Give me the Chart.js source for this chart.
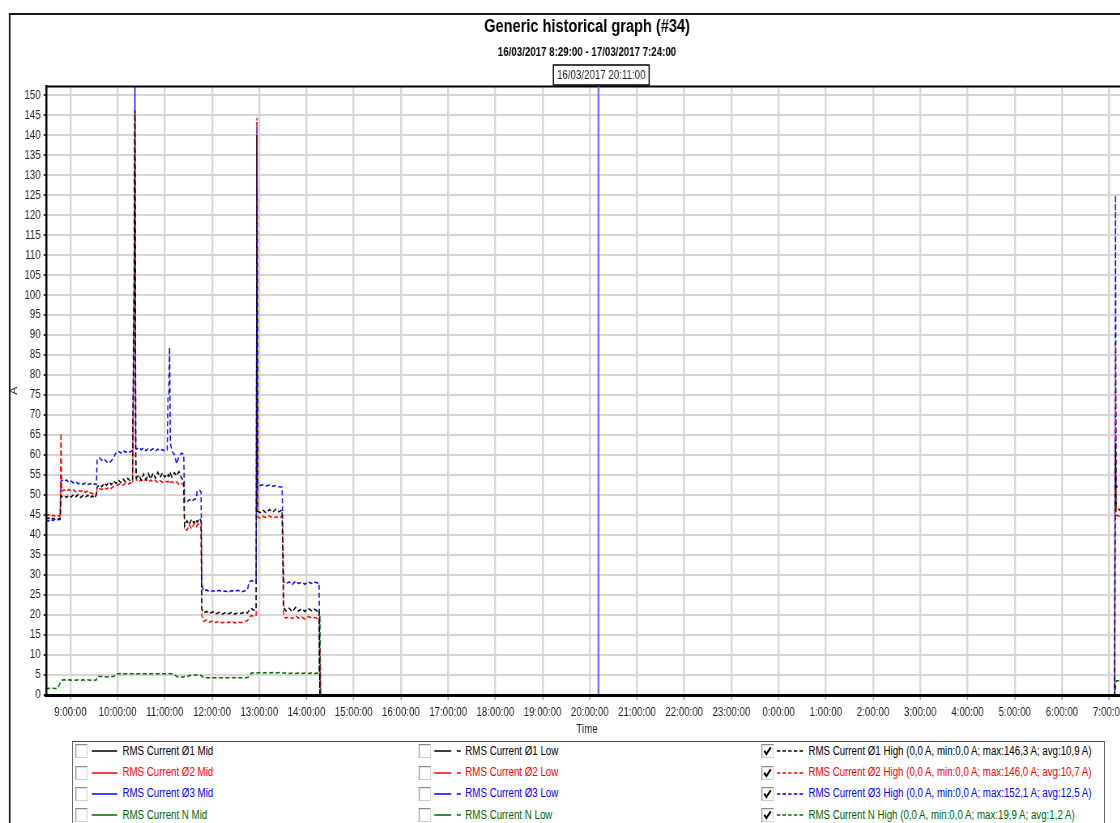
<!DOCTYPE html>
<html>
<head>
<meta charset="utf-8">
<script src="https://cdn.jsdelivr.net/npm/chart.js@4.4.1/dist/chart.umd.min.js"></script>
<style>
html,body{margin:0;padding:0;overflow:hidden;background:#fff;width:1120px;height:823px;}
#stage{position:absolute;left:0;top:0;width:1383px;height:823px;transform:scaleX(0.81);transform-origin:0 0;overflow:hidden;font-family:'Liberation Sans',Arial,sans-serif;}
#frame{position:absolute;left:11px;top:13px;width:1600px;height:900px;border-left:2.8px solid #1a1a1a;border-top:2px solid #1a1a1a;}
#chart{position:absolute;left:0;top:0;}
#legendBox{position:absolute;left:89px;top:741px;width:1273px;height:120px;border:1.3px solid #444;background:#fff;}
.item{position:absolute;white-space:nowrap;font-size:12px;line-height:14px;}
.cb{position:absolute;width:13px;height:12px;border:1px solid;border-color:#8a8a8a #cfcfcf #cfcfcf #8a8a8a;background:#fff;box-shadow:inset 1px 1px 0 #e4e4e4;line-height:0;}
.cb svg{position:absolute;left:0;top:0;display:block;}
.smp{position:absolute;line-height:0;height:4px;}
.smp svg{display:block;}
</style>
</head>
<body>
<div id="stage">
  <div id="frame"></div>
  <canvas id="chart" width="1400" height="740" style="width:1400px;height:740px;"></canvas>
  <div id="legendBox"></div>
</div>
<script>
// ---------------- data ----------------
const startTime = "08:29";
const endTime = "07:24";
const cursorTime = "20:11";
const cursorLabel = "16/03/2017 20:11:00";
const chartTitle = "Generic historical graph (#34)";
const chartSubtitle = "16/03/2017 8:29:00 - 17/03/2017 7:24:00";

const times = [
 "08:29","08:32","08:35","08:38","08:41","08:44","08:46","08:47","08:48","08:49",
 "08:52","08:55","08:58","09:01","09:04","09:07","09:10","09:13","09:16","09:19",
 "09:22","09:25","09:28","09:31","09:33","09:34","09:37","09:40","09:43","09:46",
 "09:49","09:52","09:55","09:58","10:01","10:04","10:07","10:10","10:13","10:16",
 "10:19","10:21","10:22","10:23","10:24","10:27","10:30","10:33","10:36","10:39",
 "10:42","10:45","10:48","10:51","10:54","10:57","11:00","11:03","11:04","11:05",
 "11:06","11:07","11:09","11:12","11:15","11:18","11:21","11:24","11:25","11:28",
 "11:31","11:34","11:37","11:40","11:41","11:44","11:46","11:47","11:49","11:53",
 "11:57","12:01","12:05","12:09","12:13","12:17","12:21","12:25","12:29","12:33",
 "12:37","12:41","12:45","12:47","12:50","12:53","12:56","12:57","12:58","13:01",
 "13:05","13:09","13:13","13:17","13:21","13:25","13:29","13:31","13:34","13:38",
 "13:42","13:46","13:50","13:54","13:58","14:02","14:06","14:10","14:14","14:16",
 "14:17","14:18","07:07","07:08","07:09","07:14","07:19","07:24"
];
const phase1High = [
 44.0,44.3,43.8,44.2,43.9,44.1,43.9,44.1,49.8,49.6,
 49.9,49.4,50.0,49.5,50.1,49.6,50.2,49.4,49.9,49.5,
 50.0,49.3,49.8,49.2,50.2,52.0,52.6,52.1,53.0,52.4,
 53.3,52.6,53.5,52.9,53.8,53.1,54.0,53.3,54.2,53.5,
 54.0,100.0,146.3,59.6,54.3,55.1,53.7,55.3,53.9,55.4,
 54.0,55.5,54.2,55.7,54.4,55.6,54.5,55.3,54.8,55.1,
 54.6,55.4,54.5,55.6,54.8,55.9,54.3,53.6,42.2,43.6,
 42.6,44.0,43.0,43.9,43.2,44.2,43.5,21.6,20.5,20.9,
 20.4,20.8,20.3,20.7,20.2,20.6,20.3,20.7,20.2,20.6,
 20.4,20.7,20.5,21.2,21.6,21.2,21.4,140.0,46.0,45.6,
 46.2,45.5,46.4,45.7,46.5,45.8,46.3,21.8,21.0,21.7,
 20.8,21.9,21.0,21.6,20.9,21.7,21.1,21.5,20.9,21.2,
 0,0,0,63.0,47.0,46.2,46.8,46.4
];
const phase2High = [
 44.8,45.1,44.6,45.0,44.6,44.9,44.7,44.9,65.5,51.0,
 51.3,50.9,51.4,51.0,51.3,50.8,51.2,50.9,51.3,50.7,
 51.1,50.6,50.4,50.0,50.3,51.3,51.6,51.4,51.9,51.5,
 52.0,51.7,52.2,52.4,52.6,52.9,52.5,53.0,52.7,53.1,
 52.8,100.0,146.0,54.4,53.8,53.3,53.9,53.4,54.0,53.2,
 53.8,53.3,53.7,53.1,53.6,53.2,53.5,53.3,53.5,53.3,
 53.6,53.2,53.4,52.9,53.3,52.7,53.0,52.4,41.8,41.2,
 42.6,41.5,42.9,42.1,42.5,42.9,42.4,19.9,18.4,18.8,
 18.2,18.6,18.1,18.5,18.0,18.4,18.1,18.5,18.0,18.3,
 18.1,18.4,18.6,19.4,19.9,19.6,20.0,144.4,44.6,44.2,
 44.7,44.3,44.8,44.2,44.6,44.3,44.7,19.7,19.2,19.6,
 19.1,19.8,19.2,19.5,19.0,19.6,19.3,19.4,19.1,19.3,
 10.0,0,0,87.5,45.0,44.6,45.1,44.8
];
const phase3High = [
 43.8,43.5,44.0,43.6,44.1,43.8,44.0,43.9,53.5,53.7,
 53.4,53.8,53.2,53.5,53.0,53.3,52.8,53.1,52.7,53.0,
 52.6,52.9,52.5,52.8,52.6,58.9,59.3,58.7,59.1,58.3,
 58.0,58.6,59.4,60.6,61.0,60.5,61.2,60.7,61.1,60.8,
 61.2,106.0,152.1,61.8,61.5,61.9,61.3,61.8,61.1,61.7,
 61.2,61.6,61.0,61.5,61.1,61.4,61.0,61.3,74.5,75.0,
 87.0,63.0,61.0,60.2,57.8,59.6,60.5,60.2,48.6,48.2,
 48.9,48.4,48.9,49.1,51.0,51.2,50.8,28.0,26.0,26.3,
 25.8,26.1,25.9,26.2,25.8,26.0,25.7,26.1,25.9,26.2,
 25.8,26.0,26.3,28.3,28.6,28.4,28.6,143.3,52.6,52.4,
 52.6,52.3,52.5,52.2,52.4,52.1,52.0,28.4,27.8,28.3,
 27.6,28.5,27.9,28.2,27.7,28.4,27.9,28.3,28.0,28.1,
 0,0,0,125.0,52.0,52.4,52.1,52.3
];
const neutralHigh = [
 1.6,1.7,1.6,1.7,1.6,1.7,2.6,3.0,3.4,3.7,
 3.8,3.7,3.8,3.7,3.8,3.7,3.8,3.7,3.8,3.7,
 3.8,3.7,3.8,3.7,3.8,4.6,4.6,4.6,4.6,4.5,
 4.6,4.6,4.6,5.3,5.3,5.3,5.3,5.3,5.3,5.3,
 5.3,5.3,5.3,5.3,5.3,5.3,5.3,5.3,5.3,5.3,
 5.3,5.3,5.3,5.3,5.3,5.3,5.3,5.3,5.3,5.3,
 5.3,5.3,5.3,5.2,4.6,4.5,4.5,4.5,4.6,4.6,
 4.8,5.0,5.0,5.0,5.0,5.0,4.9,4.7,4.4,4.3,
 4.3,4.3,4.3,4.3,4.3,4.3,4.3,4.3,4.3,4.3,
 4.3,4.3,4.4,4.6,5.5,5.5,5.5,5.5,5.5,5.6,
 5.5,5.6,5.5,5.6,5.5,5.6,5.5,5.5,5.5,5.4,
 5.5,5.4,5.5,5.4,5.5,5.4,5.5,5.4,5.5,5.5,
 19.9,0,0,1.5,3.5,3.7,3.6,3.7
];

const hourLabels = ["9:00:00","10:00:00","11:00:00","12:00:00","13:00:00","14:00:00","15:00:00",
 "16:00:00","17:00:00","18:00:00","19:00:00","20:00:00","21:00:00","22:00:00","23:00:00",
 "0:00:00","1:00:00","2:00:00","3:00:00","4:00:00","5:00:00","6:00:00","7:00:00"];
const yTickValues = [0,5,10,15,20,25,30,35,40,45,50,55,60,65,70,75,80,85,90,95,100,
 105,110,115,120,125,130,135,140,145,150];

const legendMid = ["RMS Current Ø1 Mid","RMS Current Ø2 Mid","RMS Current Ø3 Mid","RMS Current N Mid"];
const legendLow = ["RMS Current Ø1 Low","RMS Current Ø2 Low","RMS Current Ø3 Low","RMS Current N Low"];
const legendHigh = [
 "RMS Current Ø1 High (0,0 A, min:0,0 A; max:146,3 A; avg:10,9 A)",
 "RMS Current Ø2 High (0,0 A, min:0,0 A; max:146,0 A; avg:10,7 A)",
 "RMS Current Ø3 High (0,0 A, min:0,0 A; max:152,1 A; avg:12,5 A)",
 "RMS Current N High (0,0 A, min:0,0 A; max:19,9 A; avg:1,2 A)"
];
const seriesColors = ["#000000","#ff0000","#0000ff","#006400"];

// ---------------- helpers ----------------
const FONT = "'Liberation Sans', Arial, sans-serif";
function rawMin(s){ const p = s.split(':').map(Number); return p[0]*60 + p[1]; }
const START = rawMin(startTime);
function toMin(s){ let v = rawMin(s); if (v < START) v += 1440; return v; }
function pts(vals){ return vals.map((v,i)=>({x: toMin(times[i]), y: v})); }
const firstHour = Math.ceil(START/60)*60;

const overlay = {
  id: 'overlay',
  afterDatasetsDraw(chart){
    const {ctx, chartArea: a, scales: {x}} = chart;
    const px = x.getPixelForValue(toMin(cursorTime));
    ctx.save();
    ctx.strokeStyle = '#000'; ctx.lineWidth = 2;
    ctx.beginPath(); ctx.moveTo(a.left, a.top); ctx.lineTo(a.right + 20, a.top); ctx.stroke();
    ctx.strokeStyle = '#7373ff'; ctx.lineWidth = 2.4;
    ctx.beginPath(); ctx.moveTo(px, a.top); ctx.lineTo(px, a.bottom); ctx.stroke();
    ctx.font = '12px ' + FONT;
    const w = ctx.measureText(cursorLabel).width + 9;
    const cx = px + 3.5, top = a.top - 21.5, h = 20;
    ctx.fillStyle = '#fff'; ctx.fillRect(cx - w/2, top, w, h);
    ctx.strokeStyle = '#000'; ctx.lineWidth = 1.5; ctx.strokeRect(cx - w/2, top, w, h);
    ctx.fillStyle = '#2a2030'; ctx.textAlign = 'center'; ctx.textBaseline = 'middle';
    ctx.fillText(cursorLabel, cx, top + h/2 + 0.5);
    ctx.restore();
  }
};

const names = legendHigh.map(s => s.split(' (')[0]);
const datasets = [phase1High, phase2High, phase3High, neutralHigh].map((vals, i) => ({
  label: names[i], data: pts(vals), borderColor: seriesColors[i], backgroundColor: seriesColors[i],
  borderWidth: 1.5, borderDash: [5, 3], pointRadius: 0, tension: 0, fill: false
}));

new Chart(document.getElementById('chart'), {
  type: 'line',
  data: { datasets },
  options: {
    responsive: false, animation: false, events: [],
    layout: { padding: { left: 0, right: 7.4, top: 0, bottom: 0 } },
    plugins: {
      legend: { display: false }, tooltip: { enabled: false },
      title: { display: true, text: chartTitle, fullSize: false, color: '#000',
               font: { family: FONT, size: 18, weight: 'bold' }, padding: { top: 16.7, bottom: 0 } },
      subtitle: { display: true, text: chartSubtitle, fullSize: false, color: '#000',
               font: { family: FONT, size: 12, weight: 'bold' }, padding: { top: 7.5, bottom: 26.3 } }
    },
    scales: {
      x: {
        type: 'linear', min: toMin(startTime), max: toMin(endTime),
        afterBuildTicks: s => { s.ticks = hourLabels.map((l, i) => ({ value: firstHour + i*60 })); },
        afterFit: s => { s.height = 45; },
        ticks: { autoSkip: false, maxRotation: 0, minRotation: 0, padding: 5.3, color: '#222',
                 font: { family: FONT, size: 12 }, callback: (v, i) => hourLabels[i] },
        grid: { color: '#d6d6d6', lineWidth: 2.4, tickLength: 5, tickColor: '#888', tickWidth: 1.2 },
        border: { display: true, color: '#000', width: 3, z: 1 },
        title: { display: true, text: 'Time', color: '#222', font: { family: FONT, size: 12 },
                 padding: { top: 0, bottom: 3.3 } }
      },
      y: {
        min: 0, max: 152.2,
        afterBuildTicks: s => { s.ticks = yTickValues.map(v => ({ value: v })); },
        afterFit: s => { s.width = 56.8; },
        ticks: { padding: 3.6, color: '#222', font: { family: FONT, size: 12 } },
        grid: { color: '#d6d6d6', lineWidth: 2, tickLength: 3, tickColor: '#000', tickWidth: 1.5 },
        border: { display: true, color: '#000', width: 2.5, z: 1 },
        title: { display: true, text: 'A', color: '#222', font: { family: FONT, size: 12 },
                 padding: { top: 10.3, bottom: 0 } }
      }
    }
  },
  plugins: [overlay]
});

// ---------------- legend (HTML) ----------------
const stage = document.getElementById('stage');
const rowCenters = [751.3, 772.6, 793.9, 815.2];
const cols = [
  { labels: legendMid, cb: 92.6, smp: 113.3, txt: 151.2, dash: '', w: 32, checked: false },
  { labels: legendLow, cb: 516.8, smp: 535.8, txt: 574.5, dash: '21 7 6 40', w: 33, checked: false },
  { labels: legendHigh, cb: 940, smp: 959, txt: 998, dash: '4.3 2.7', w: 33, checked: true }
];
cols.forEach(col => {
  col.labels.forEach((label, r) => {
    const cy = rowCenters[r];
    const color = seriesColors[r];
    const cb = document.createElement('div');
    cb.className = 'cb';
    cb.style.left = col.cb + 'px'; cb.style.top = (cy - 7) + 'px';
    if (col.checked) {
      cb.innerHTML = '<svg width="13" height="12" viewBox="0 0 13 12"><path d="M2.5 5.8 L5.2 9 L10.6 2.4" stroke="#000" stroke-width="2.2" fill="none"/></svg>';
    }
    stage.appendChild(cb);
    const smp = document.createElement('div');
    smp.className = 'smp';
    smp.style.left = col.smp + 'px'; smp.style.top = (cy - 2) + 'px';
    smp.innerHTML = '<svg width="' + col.w + '" height="4"><line x1="0" y1="2" x2="' + col.w + '" y2="2" stroke="' + color +
      '" stroke-width="1.3"' + (col.dash ? ' stroke-dasharray="' + col.dash + '"' : '') + '/></svg>';
    stage.appendChild(smp);
    const t = document.createElement('div');
    t.className = 'item';
    t.style.left = col.txt + 'px'; t.style.top = (cy - 7.5) + 'px'; t.style.color = color;
    t.textContent = label;
    stage.appendChild(t);
  });
});
</script>
</body>
</html>
